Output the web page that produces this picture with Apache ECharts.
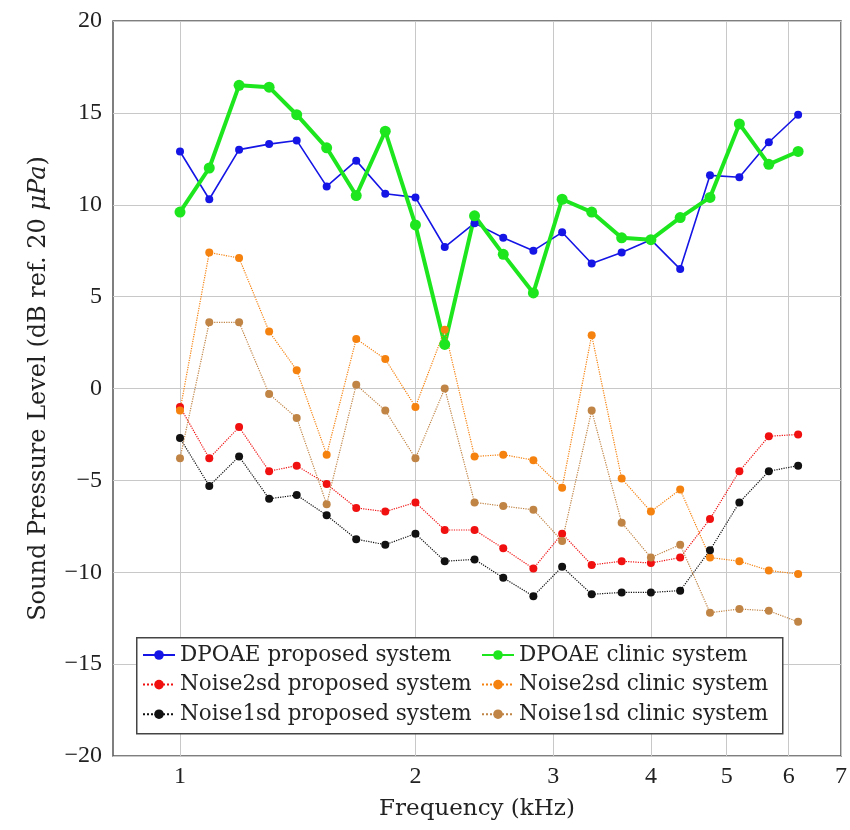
<!DOCTYPE html>
<html>
<head>
<meta charset="utf-8">
<script src="https://cdn.jsdelivr.net/npm/echarts@6/dist/echarts.min.js"></script>
<style>
  html, body { margin: 0; padding: 0; background: #fff; }
  #chart { width: 850px; height: 830px; }
</style>
</head>
<body>
<div id="chart"></div>
<script>
// Test frequencies (kHz), 1/8-octave steps
const freqKHz = [1.00, 1.09, 1.19, 1.30, 1.41, 1.54, 1.68, 1.83, 2.00, 2.18, 2.38,
                 2.59, 2.83, 3.08, 3.36, 3.67, 4.00, 4.36, 4.76, 5.19, 5.66, 6.17];

// Sound pressure levels (dB SPL)
const dpoaeProposed    = [12.9, 10.3, 13.0, 13.3, 13.5, 11.0, 12.4, 10.6, 10.4, 7.7, 9.0,
                          8.2, 7.5, 8.5, 6.8, 7.4, 8.1, 6.5, 11.6, 11.5, 13.4, 14.9];
const dpoaeClinic      = [9.6, 12.0, 16.5, 16.4, 14.9, 13.1, 10.5, 14.0, 8.9, 2.4, 9.4,
                          7.3, 5.2, 10.3, 9.6, 8.2, 8.1, 9.3, 10.4, 14.4, 12.2, 12.9];
const noise2sdProposed = [-1.0, -3.8, -2.1, -4.5, -4.2, -5.2, -6.5, -6.7, -6.2, -7.7, -7.7,
                          -8.7, -9.8, -7.9, -9.6, -9.4, -9.5, -9.2, -7.1, -4.5, -2.6, -2.5];
const noise2sdClinic   = [-1.2, 7.4, 7.1, 3.1, 1.0, -3.6, 2.7, 1.6, -1.0, 3.2, -3.7,
                          -3.6, -3.9, -5.4, 2.9, -4.9, -6.7, -5.5, -9.2, -9.4, -9.9, -10.1];
const noise1sdProposed = [-2.7, -5.3, -3.7, -6.0, -5.8, -6.9, -8.2, -8.5, -7.9, -9.4, -9.3,
                          -10.3, -11.3, -9.7, -11.2, -11.1, -11.1, -11.0, -8.8, -6.2, -4.5, -4.2];
const noise1sdClinic   = [-3.8, 3.6, 3.6, -0.3, -1.6, -6.3, 0.2, -1.2, -3.8, 0.0, -6.2,
                          -6.4, -6.6, -8.3, -1.2, -7.3, -9.2, -8.5, -12.2, -12.0, -12.1, -12.7];

// Axis ticks
const xTickValues = [1, 2, 3, 4, 5, 6, 7];
const seriesNames = [
  'DPOAE proposed system', 'DPOAE clinic system',
  'Noise2sd proposed system', 'Noise2sd clinic system',
  'Noise1sd proposed system', 'Noise1sd clinic system'
];

const TEXT_FONT = 'DejaVu Serif';
const NUM_FONT = 'Liberation Serif';

function lineSeries(name, values, color, lineWidth, lineType, symbolSize) {
  return {
    name: name,
    type: 'line',
    data: freqKHz.map((f, i) => [f, values[i]]),
    symbol: 'circle',
    symbolSize: symbolSize,
    showSymbol: true,
    itemStyle: { color: color },
    lineStyle: { color: color, width: lineWidth, type: lineType },
    emphasis: { disabled: true },
    animation: false
  };
}

const chart = echarts.init(document.getElementById('chart'), null, { renderer: 'canvas' });

const legendText = { fontFamily: TEXT_FONT, fontSize: 21.5, color: '#222', lineHeight: 24 };

chart.setOption({
  backgroundColor: '#fff',
  animation: false,
  grid: {
    left: 113, top: 21, right: 7, bottom: 74,
    show: true, borderColor: '#555', borderWidth: 1.5,
    containLabel: false
  },
  xAxis: {
    type: 'log',
    logBase: 10,
    min: 0.821,
    max: 7,
    name: 'Frequency (kHz)',
    nameLocation: 'middle',
    nameGap: 42,
    nameTextStyle: { fontFamily: TEXT_FONT, fontSize: 23, color: '#222' },
    axisLine: { show: false },
    axisTick: { show: false, customValues: xTickValues },
    axisLabel: {
      customValues: xTickValues,
      margin: 9,
      fontFamily: NUM_FONT, fontSize: 24, color: '#222',
      formatter: v => String(Math.round(v))
    },
    splitLine: { show: true, lineStyle: { color: '#c8c8c8', width: 1 } }
  },
  yAxis: {
    type: 'value',
    min: -20,
    max: 20,
    interval: 5,
    name: 'Sound Pressure Level (dB ref. 20 {i|\u03bcPa})',
    nameLocation: 'middle',
    nameGap: 62,
    nameRotate: 90,
    nameTextStyle: {
      fontFamily: TEXT_FONT, fontSize: 24, color: '#222',
      rich: { i: { fontFamily: TEXT_FONT, fontSize: 24, fontStyle: 'italic', color: '#222' } }
    },
    axisLine: { show: false },
    axisTick: { show: false },
    axisLabel: {
      margin: 11,
      fontFamily: NUM_FONT, fontSize: 24, color: '#222',
      formatter: v => (v < 0 ? '\u2212' + (-v) : String(v))
    },
    splitLine: { show: true, lineStyle: { color: '#c8c8c8', width: 1 } }
  },
  legend: [
    {
      data: [seriesNames[0], seriesNames[2], seriesNames[4]],
      orient: 'vertical',
      left: 142, top: 643,
      padding: 0,
      itemWidth: 32, itemHeight: 12, itemGap: 5.6,
      textStyle: legendText,
      selectedMode: false,
      z: 6
    },
    {
      data: [seriesNames[1], seriesNames[3], seriesNames[5]],
      orient: 'vertical',
      left: 481, top: 643,
      padding: 0,
      itemWidth: 32, itemHeight: 12, itemGap: 5.6,
      textStyle: legendText,
      selectedMode: false,
      z: 6
    }
  ],
  graphic: [
    {
      type: 'rect',
      left: 136, top: 637,
      shape: { width: 646, height: 96 },
      style: { fill: '#fff', stroke: '#444', lineWidth: 1.5 },
      z: 5
    }
  ],
  series: [
    lineSeries(seriesNames[0], dpoaeProposed, '#1515e6', 1.6, 'solid', 8),
    lineSeries(seriesNames[1], dpoaeClinic, '#1ee61e', 4, 'solid', 11),
    lineSeries(seriesNames[2], noise2sdProposed, '#f01010', 1.2, 'dotted', 8),
    lineSeries(seriesNames[3], noise2sdClinic, '#f5820f', 1.2, 'dotted', 8),
    lineSeries(seriesNames[4], noise1sdProposed, '#111111', 1.2, 'dotted', 8),
    lineSeries(seriesNames[5], noise1sdClinic, '#c08445', 1.2, 'dotted', 8)
  ]
});
</script>
</body>
</html>
